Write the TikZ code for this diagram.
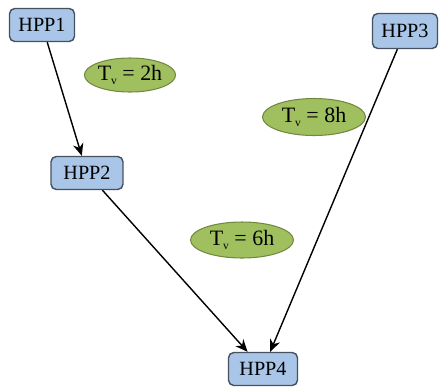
\documentclass[tikz,border=0pt]{standalone}
\usepackage{fontspec}
\setmainfont{Liberation Serif}
\usetikzlibrary{arrows.meta,shapes.geometric}
\definecolor{hppblue}{RGB}{169,198,232}
\definecolor{hppline}{RGB}{70,80,95}
\definecolor{tvgreen}{RGB}{160,192,95}
\definecolor{tvline}{RGB}{113,137,63}
\newcommand{\tvsub}{T\raisebox{-0.35ex}{\fontsize{6.5}{7}\selectfont v}}
\tikzset{
    hpp/.style={draw=hppline,fill=hppblue,rounded corners=3pt,line width=0.8pt,
        minimum width=1.3cm,minimum height=0.66cm,font=\fontsize{11.5}{13}\selectfont},
    tv/.style={ellipse,draw=tvline,fill=tvgreen,line width=0.6pt,inner sep=0pt,
        font=\fontsize{12.5}{14}\selectfont},
    flow/.style={-{Stealth[length=7pt,width=6pt]},line width=0.8pt}
}

\begin{document}
\begin{tikzpicture}[x=0.02cm,y=-0.02cm]
    \useasboundingbox (0,0) rectangle (446,386);

    % Les noeuds HPP
    \node[hpp] (hpp1) at (42,25) {HPP1};
    \node[hpp,minimum width=1.44cm] (hpp2) at (87,173) {HPP2};
    \node[hpp,minimum height=0.7cm] (hpp3) at (405,31) {HPP3};
    \node[hpp,minimum width=1.38cm] (hpp4) at (263,369) {HPP4};

    % Les durées
    \node[tv,minimum width=1.78cm,minimum height=0.68cm] (tv1) at (130,75) {\tvsub{} = 2h};
    \node[tv,minimum width=2.06cm,minimum height=0.74cm] (tv3) at (314,117) {\tvsub{} = 8h};
    \node[tv,minimum width=2.06cm,minimum height=0.72cm] (tv2) at (242,240) {\tvsub{} = 6h};

    % Les flèches
    \draw[flow] (hpp1) -- (hpp2);
    \draw[flow] (hpp2) -- (hpp4);
    \draw[flow] (hpp3) -- (hpp4);
\end{tikzpicture}
\end{document}
